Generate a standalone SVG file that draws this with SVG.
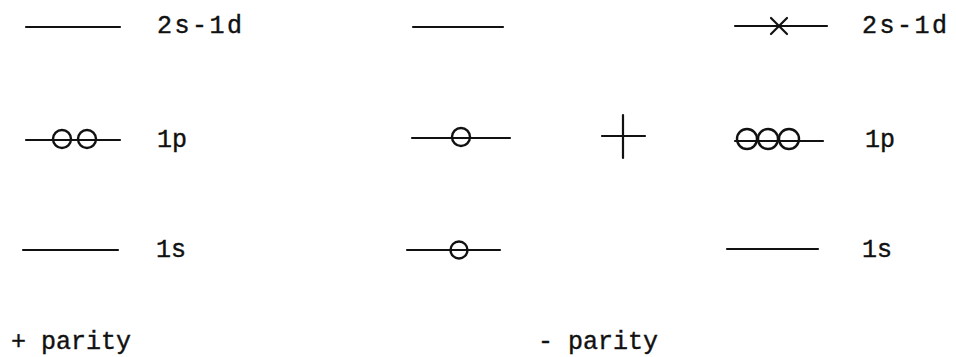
<svg xmlns="http://www.w3.org/2000/svg" width="956" height="357" viewBox="0 0 956 357">
<style>
.lvl{stroke:#111;stroke-width:2.2;fill:none;stroke-linecap:round}
.orb{stroke:#111;stroke-width:2.4;fill:none}
.lbl{font-family:"Liberation Mono","DejaVu Sans Mono",monospace;font-size:25px;fill:#111;stroke:#111;stroke-width:0.4}
</style>
<rect width="956" height="357" fill="#fff"/>
<g id="connectors"></g>
<g id="left-2s1d"><line class="lvl" x1="26" y1="27" x2="120" y2="27"/><text class="lbl" x="157" y="33" letter-spacing="2.5">2s-1d</text></g>
<g id="left-1p"><line class="lvl" x1="26" y1="140" x2="120" y2="140"/><circle class="orb" cx="62" cy="139" r="9"/><circle class="orb" cx="87" cy="139" r="9"/><text class="lbl" x="157" y="147">1p</text></g>
<g id="left-1s"><line class="lvl" x1="23" y1="250" x2="118" y2="250"/><text class="lbl" x="156" y="257">1s</text></g>
<g id="mid-2s1d"><line class="lvl" x1="413" y1="27" x2="503" y2="27"/></g>
<g id="mid-1p"><line class="lvl" x1="412" y1="138" x2="510" y2="138"/><circle class="orb" cx="461" cy="137" r="9"/></g>
<g id="mid-1s"><line class="lvl" x1="407" y1="250" x2="500" y2="250"/><circle class="orb" cx="459" cy="250" r="8.5"/></g>
<g id="plus"><line class="lvl" x1="602" y1="136" x2="645" y2="136"/><line class="lvl" x1="623" y1="115" x2="623" y2="158"/></g>
<g id="right-2s1d"><line class="lvl" x1="735" y1="26" x2="827" y2="26"/><path class="lvl" d="M771 18L787 34M771 34L787 18" stroke-width="1.8"/><text class="lbl" x="862" y="33" letter-spacing="2.5">2s-1d</text></g>
<g id="right-1p"><line class="lvl" x1="735" y1="141" x2="823" y2="141"/><circle class="orb" cx="747" cy="139" r="10"/><circle class="orb" cx="768" cy="139" r="10"/><circle class="orb" cx="789" cy="139" r="10"/><text class="lbl" x="865" y="147">1p</text></g>
<g id="right-1s"><line class="lvl" x1="727" y1="249" x2="818" y2="249"/><text class="lbl" x="862" y="257">1s</text></g>
<g id="plus-parity"><text class="lbl" x="11" y="349">+ parity</text></g>
<g id="minus-parity"><text class="lbl" x="538" y="349">- parity</text></g>
</svg>
